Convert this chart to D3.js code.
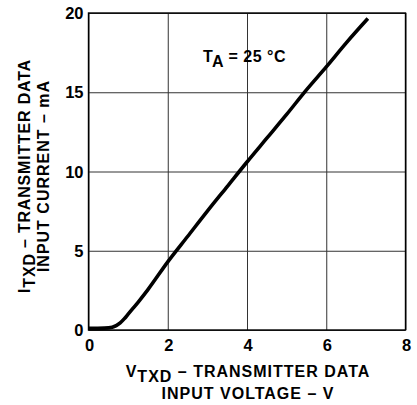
<!DOCTYPE html>
<html lang="en">
<head>
  <meta charset="utf-8">
  <title>Transmitter data input current vs voltage</title>
  <style>
    html, body { margin:0; padding:0; background:#fff; }
    svg text { font-family:"Liberation Sans", Arial, sans-serif; font-weight:bold; fill:#000; }
  </style>
</head>
<body>
  <svg id="chart" width="417" height="405"></svg>
  <script src="https://d3js.org/d3.v7.min.js"></script>
  <script>
    // data: V (volts) -> I (mA)
    const voltage = [0, 0.4, 0.6, 0.7, 0.8, 0.9, 1.0, 1.1, 1.25, 1.5, 2.0, 2.5, 3.0, 3.5, 4.0, 4.5, 5.0, 5.5, 6.0, 6.5, 7.05];
    const current = [0.1, 0.12, 0.18, 0.28, 0.45, 0.7, 1.0, 1.3, 1.75, 2.55, 4.3, 5.9, 7.5, 9.05, 10.6, 12.1, 13.6, 15.15, 16.6, 18.1, 19.65];
    const xTicks = [0, 2, 4, 6, 8];
    const yTicks = [0, 5, 10, 15, 20];

    const svg = d3.select("#chart");
    const m = { left: 88.5, right: 405.5, top: 13, bottom: 330 };

    const x = d3.scaleLinear().domain([0, 8]).range([m.left, m.right]);
    const y = d3.scaleLinear().domain([0, 20]).range([m.bottom, m.top]);

    // grid
    svg.append("g")
      .attr("transform", `translate(0,${m.bottom})`)
      .call(d3.axisBottom(x).tickValues(xTicks).tickSize(-(m.bottom - m.top)).tickFormat(""))
      .call(g => g.select(".domain").remove())
      .call(g => g.selectAll("line").attr("stroke", "#333").attr("stroke-width", 1));
    svg.append("g")
      .attr("transform", `translate(${m.left},0)`)
      .call(d3.axisLeft(y).tickValues(yTicks).tickSize(-(m.right - m.left)).tickFormat(""))
      .call(g => g.select(".domain").remove())
      .call(g => g.selectAll("line").attr("stroke", "#333").attr("stroke-width", 1));

    // frame
    svg.append("rect")
      .attr("x", m.left).attr("y", m.top)
      .attr("width", m.right - m.left).attr("height", m.bottom - m.top)
      .attr("fill", "none").attr("stroke", "#000").attr("stroke-width", 1.4);

    // tick labels
    svg.append("g").selectAll("text")
      .data(xTicks).join("text")
      .attr("x", d => x(d) + 1).attr("y", m.bottom + 21)
      .attr("text-anchor", "middle").attr("font-size", 16.5)
      .text(d => d);
    svg.append("g").selectAll("text")
      .data(yTicks).join("text")
      .attr("x", m.left - 5).attr("y", d => y(d) + 6)
      .attr("text-anchor", "end").attr("font-size", 16.5)
      .text(d => d);

    // curve
    const pts = voltage.map((v, i) => [v, current[i]]);
    svg.append("path")
      .datum(pts)
      .attr("fill", "none").attr("stroke", "#000").attr("stroke-width", 3.6)
      .attr("stroke-linejoin", "round")
      .attr("d", d3.line().x(d => x(d[0])).y(d => y(d[1])).curve(d3.curveMonotoneX));

    // annotation
    const ta = svg.append("text").attr("x", 203).attr("y", 62).attr("font-size", 16)
      .attr("letter-spacing", 0.5);
    ta.append("tspan").text("T");
    ta.append("tspan").attr("dy", 5).text("A");
    ta.append("tspan").attr("dy", -5).text(" = 25 °C");

    // x axis title
    const xt = svg.append("text").attr("x", 248).attr("y", 377).attr("text-anchor", "middle")
      .attr("font-size", 16).attr("letter-spacing", 1);
    xt.append("tspan").text("V");
    xt.append("tspan").attr("dy", 5).text("TXD");
    xt.append("tspan").attr("dy", -5).text(" – TRANSMITTER DATA");
    svg.append("text").attr("x", 248).attr("y", 399).attr("text-anchor", "middle")
      .attr("font-size", 16).attr("letter-spacing", 1)
      .text("INPUT VOLTAGE – V");

    // y axis title
    const yg = svg.append("g").attr("transform", "translate(0,176) rotate(-90)");
    const yt = yg.append("text").attr("x", 0).attr("y", 30).attr("text-anchor", "middle")
      .attr("font-size", 16).attr("letter-spacing", 0.8);
    yt.append("tspan").text("I");
    yt.append("tspan").attr("dy", 5).text("TXD");
    yt.append("tspan").attr("dy", -5).text(" – TRANSMITTER DATA");
    yg.append("text").attr("x", 0).attr("y", 49).attr("text-anchor", "middle")
      .attr("font-size", 16).attr("letter-spacing", 1)
      .text("INPUT CURRENT – mA");
  </script>
</body>
</html>
